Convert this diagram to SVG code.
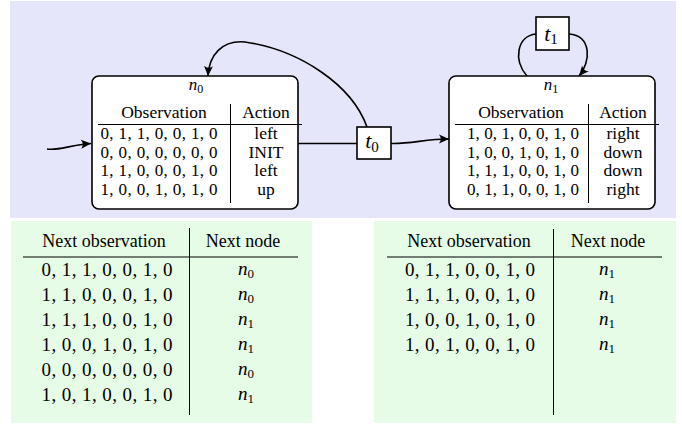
<svg xmlns="http://www.w3.org/2000/svg" width="682" height="426" viewBox="0 0 682 426">
<style>
text{font-family:"Liberation Serif","Times New Roman",serif;fill:#000}
.h{font-size:17.5px;text-anchor:middle}
.r{font-size:17px;text-anchor:middle}
.a{font-size:17.5px;text-anchor:middle}
.bh{font-size:18px;text-anchor:middle}
.br{font-size:19px;text-anchor:middle}
.box{fill:#fff;stroke:#000;stroke-width:1.6}
.rule{stroke:#000;stroke-width:1;fill:none}
.edge{fill:none;stroke:#000;stroke-width:1.6}
.i{font-style:italic}
</style>
<defs>
<marker id="arr" markerUnits="userSpaceOnUse" viewBox="-11 -6 12 12" markerWidth="12" markerHeight="12" refX="0" refY="0" orient="auto">
<path d="M0,0 L-10,-4.5 Q-6.5,0 -10,4.5 Z" fill="#000"/>
</marker>
</defs>
<rect x="10" y="1" width="666" height="217" fill="#E6E6FA"/>
<rect x="11" y="221" width="301" height="202" fill="#E6FCE6"/>
<rect x="374" y="221" width="302" height="202" fill="#E6FCE6"/>

<g id="edges">
<path class="edge" d="M47,149 C58,151 70,145 91,143.5" marker-end="url(#arr)"/>
<path class="edge" d="M298,143.5 L357,143.5"/>
<path class="edge" d="M391,143.5 C412,144 425,139 449,139" marker-end="url(#arr)"/>
<path class="edge" d="M367,127 C352,85 300,50 245,42 C222,40 209,55 208,76" marker-end="url(#arr)"/>
<path class="edge" d="M536,34 C517,36 513,60 527,76"/>
<path class="edge" d="M569,34 C592,36 591,62 579,76" marker-end="url(#arr)"/>
</g>

<g id="n0">
<rect class="box" x="92" y="76" width="206" height="133" rx="7"/>
<text x="196" y="90" font-size="17" text-anchor="middle"><tspan class="i">n</tspan><tspan font-size="12" dy="3">0</tspan></text>
<text x="164" y="118" class="h">Observation</text>
<text x="266" y="118" class="h">Action</text>
<line class="rule" x1="98" y1="124.5" x2="302" y2="124.5"/>
<line class="rule" x1="230.5" y1="104" x2="230.5" y2="203"/>
<text x="159" y="139" class="r" textLength="117" lengthAdjust="spacing">0, 1, 1, 0, 0, 1, 0</text>
<text x="159" y="157.7" class="r" textLength="117" lengthAdjust="spacing">0, 0, 0, 0, 0, 0, 0</text>
<text x="159" y="176.3" class="r" textLength="117" lengthAdjust="spacing">1, 1, 0, 0, 0, 1, 0</text>
<text x="159" y="195" class="r" textLength="117" lengthAdjust="spacing">1, 0, 0, 1, 0, 1, 0</text>
<text x="266" y="139" class="a">left</text>
<text x="266" y="157.7" class="a">INIT</text>
<text x="266" y="176.3" class="a">left</text>
<text x="266" y="195" class="a">up</text>
</g>

<g id="n1">
<rect class="box" x="449" y="76" width="206" height="133" rx="7"/>
<text x="551" y="90" font-size="17" text-anchor="middle"><tspan class="i">n</tspan><tspan font-size="12" dy="3">1</tspan></text>
<text x="521" y="118" class="h">Observation</text>
<text x="623" y="118" class="h">Action</text>
<line class="rule" x1="455" y1="124.5" x2="659" y2="124.5"/>
<line class="rule" x1="588.5" y1="104" x2="588.5" y2="203"/>
<text x="523" y="139" class="r" textLength="112" lengthAdjust="spacing">1, 0, 1, 0, 0, 1, 0</text>
<text x="523" y="157.7" class="r" textLength="112" lengthAdjust="spacing">1, 0, 0, 1, 0, 1, 0</text>
<text x="523" y="176.3" class="r" textLength="112" lengthAdjust="spacing">1, 1, 1, 0, 0, 1, 0</text>
<text x="523" y="195" class="r" textLength="112" lengthAdjust="spacing">0, 1, 1, 0, 0, 1, 0</text>
<text x="623" y="139" class="a">right</text>
<text x="623" y="157.7" class="a">down</text>
<text x="623" y="176.3" class="a">down</text>
<text x="623" y="195" class="a">right</text>
</g>

<g id="t0">
<rect class="box" x="357" y="127" width="34" height="32"/>
<text x="372" y="148" font-size="22" text-anchor="middle"><tspan class="i">t</tspan><tspan font-size="15" dy="4">0</tspan></text>
</g>

<g id="t1">
<rect class="box" x="536" y="17" width="33" height="33"/>
<text x="551" y="41" font-size="22" text-anchor="middle"><tspan class="i">t</tspan><tspan font-size="15" dy="3">1</tspan></text>
</g>

<g id="table0">
<text x="104" y="247" class="bh">Next observation</text>
<text x="243" y="247" class="bh">Next node</text>
<line class="rule" x1="23" y1="257" x2="298" y2="257"/>
<line class="rule" x1="189.5" y1="228" x2="189.5" y2="415"/>
<text x="107" y="276" class="br" textLength="131" lengthAdjust="spacing">0, 1, 1, 0, 0, 1, 0</text>
<text x="107" y="301" class="br" textLength="131" lengthAdjust="spacing">1, 1, 0, 0, 0, 1, 0</text>
<text x="107" y="326" class="br" textLength="131" lengthAdjust="spacing">1, 1, 1, 0, 0, 1, 0</text>
<text x="107" y="351" class="br" textLength="131" lengthAdjust="spacing">1, 0, 0, 1, 0, 1, 0</text>
<text x="107" y="376" class="br" textLength="131" lengthAdjust="spacing">0, 0, 0, 0, 0, 0, 0</text>
<text x="107" y="401" class="br" textLength="131" lengthAdjust="spacing">1, 0, 1, 0, 0, 1, 0</text>
<text x="246" y="274.5" class="br"><tspan class="i">n</tspan><tspan font-size="13" dy="3">0</tspan></text>
<text x="246" y="299.5" class="br"><tspan class="i">n</tspan><tspan font-size="13" dy="3">0</tspan></text>
<text x="246" y="324.5" class="br"><tspan class="i">n</tspan><tspan font-size="13" dy="3">1</tspan></text>
<text x="246" y="349.5" class="br"><tspan class="i">n</tspan><tspan font-size="13" dy="3">1</tspan></text>
<text x="246" y="374.5" class="br"><tspan class="i">n</tspan><tspan font-size="13" dy="3">0</tspan></text>
<text x="246" y="399.5" class="br"><tspan class="i">n</tspan><tspan font-size="13" dy="3">1</tspan></text>
</g>

<g id="table1">
<text x="469" y="247" class="bh">Next observation</text>
<text x="608" y="247" class="bh">Next node</text>
<line class="rule" x1="387" y1="257" x2="662" y2="257"/>
<line class="rule" x1="553.5" y1="229" x2="553.5" y2="415"/>
<text x="470" y="276" class="br" textLength="130" lengthAdjust="spacing">0, 1, 1, 0, 0, 1, 0</text>
<text x="470" y="301" class="br" textLength="130" lengthAdjust="spacing">1, 1, 1, 0, 0, 1, 0</text>
<text x="470" y="326" class="br" textLength="130" lengthAdjust="spacing">1, 0, 0, 1, 0, 1, 0</text>
<text x="470" y="351" class="br" textLength="130" lengthAdjust="spacing">1, 0, 1, 0, 0, 1, 0</text>
<text x="607" y="274.5" class="br"><tspan class="i">n</tspan><tspan font-size="13" dy="3">1</tspan></text>
<text x="607" y="299.5" class="br"><tspan class="i">n</tspan><tspan font-size="13" dy="3">1</tspan></text>
<text x="607" y="324.5" class="br"><tspan class="i">n</tspan><tspan font-size="13" dy="3">1</tspan></text>
<text x="607" y="349.5" class="br"><tspan class="i">n</tspan><tspan font-size="13" dy="3">1</tspan></text>
</g>
</svg>
